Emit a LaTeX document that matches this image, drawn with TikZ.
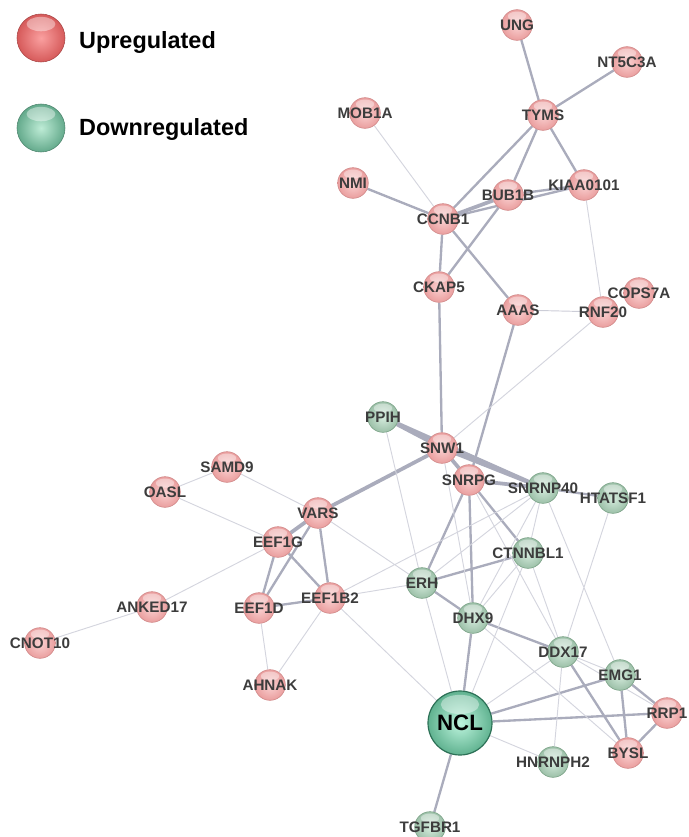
\documentclass[tikz,border=0pt]{standalone}
\usepackage{fontspec}
\setmainfont{Liberation Sans}
\usetikzlibrary{backgrounds}

\definecolor{upin}{RGB}{250,210,210}
\definecolor{upout}{RGB}{234,158,158}
\definecolor{uprim}{RGB}{208,136,136}
\definecolor{dnin}{RGB}{214,236,222}
\definecolor{dnout}{RGB}{156,192,168}
\definecolor{dnrim}{RGB}{120,160,132}
\definecolor{bigin}{RGB}{190,245,222}
\definecolor{bigout}{RGB}{96,178,144}
\definecolor{bigrim}{RGB}{44,112,86}
\definecolor{legupin}{RGB}{250,160,160}
\definecolor{legupout}{RGB}{214,90,90}
\definecolor{legdnin}{RGB}{190,236,214}
\definecolor{legdnout}{RGB}{100,170,140}
\definecolor{labgray}{RGB}{60,60,60}
\definecolor{edgemid}{RGB}{170,172,188}
\definecolor{edgelight}{RGB}{212,213,222}

\begin{document}
\begin{tikzpicture}[x = 0.03cm, y = -0.03cm,
        sphere/.style = {circle, inner sep = 0pt, minimum size = 2*#1, shade, line width = 0.5pt,
            path picture = {\fill[white, opacity = .4] ([yshift = -0.42*#1]path picture bounding box.north) ellipse ({0.6*#1} and {0.3*#1});}},
        lbl/.style = {font = \bfseries\fontsize{13}{13}\selectfont, text = labgray, inner sep = 0pt},
        up/.style = {sphere = 0.46cm, inner color = upin, outer color = upout, draw = uprim, label = {[lbl]center:#1}},
        down/.style = {sphere = 0.46cm, inner color = dnin, outer color = dnout, draw = dnrim, label = {[lbl]center:#1}},
        weak/.style = {line width = 0.8pt, draw = edgelight},
        mid/.style = {line width = 2pt, draw = edgemid},
        strong/.style = {line width = 3.2pt, draw = edgemid}]
    \useasboundingbox (0, 0) rectangle (688, 837);

    % legend
    \node[sphere = 0.72cm, inner color = legupin, outer color = legupout, draw = legupout!80!black] (legup) at (41, 38) {};
    \node[sphere = 0.72cm, inner color = legdnin, outer color = legdnout, draw = legdnout!80!black] (legdown) at (41, 128) {};
    \node[anchor = west, font = \bfseries\fontsize{20}{20}\selectfont] (legupt) at (75, 42) {Upregulated};
    \node[anchor = west, font = \bfseries\fontsize{20}{20}\selectfont] (legdownt) at (75, 129) {Downregulated};

    % genes
    \node[up = UNG] (ung) at (517, 25) {};
    \node[up = NT5C3A] (nt5c3a) at (627, 62) {};
    \node[up = MOB1A] (mob1a) at (365, 113) {};
    \node[up = TYMS] (tyms) at (543, 115) {};
    \node[up = NMI] (nmi) at (353, 183) {};
    \node[up = KIAA0101] (kiaa) at (584, 185) {};
    \node[up = BUB1B] (bub1b) at (508, 195) {};
    \node[up = CCNB1] (ccnb1) at (443, 219) {};
    \node[up = CKAP5] (ckap5) at (439, 287) {};
    \node[up = AAAS] (aaas) at (518, 310) {};
    \node[up = RNF20] (rnf20) at (603, 312) {};
    \node[up = COPS7A] (cops7a) at (639, 293) {};
    \node[down = PPIH] (ppih) at (383, 417) {};
    \node[up = SNW1] (snw1) at (442, 448) {};
    \node[up = SAMD9] (samd9) at (227, 467) {};
    \node[up = SNRPG] (snrpg) at (469, 480) {};
    \node[down = SNRNP40] (snrnp40) at (543, 488) {};
    \node[up = OASL] (oasl) at (165, 492) {};
    \node[down = HTATSF1] (htatsf1) at (613, 498) {};
    \node[up = VARS] (vars) at (318, 513) {};
    \node[up = EEF1G] (eef1g) at (278, 542) {};
    \node[down = CTNNBL1] (ctnnbl1) at (528, 553) {};
    \node[down = ERH] (erh) at (422, 583) {};
    \node[up = EEF1B2] (eef1b2) at (330, 598) {};
    \node[up = ANKED17] (anked17) at (152, 607) {};
    \node[up = EEF1D] (eef1d) at (259, 608) {};
    \node[down = DHX9] (dhx9) at (473, 618) {};
    \node[up = CNOT10] (cnot10) at (40, 643) {};
    \node[down = DDX17] (ddx17) at (563, 652) {};
    \node[down = EMG1] (emg1) at (620, 675) {};
    \node[up = AHNAK] (ahnak) at (270, 685) {};
    \node[up = RRP1] (rrp1) at (667, 713) {};
    \node[sphere = 0.96cm, inner color = bigin, outer color = bigout, draw = bigrim, line width = 1pt,
          label = {[font = \bfseries\fontsize{19}{19}\selectfont, inner sep = 0pt]center:NCL}] (ncl) at (460, 723) {};
    \node[up = BYSL] (bysl) at (628, 753) {};
    \node[down = HNRNPH2] (hnrnph2) at (553, 762) {};
    \node[down = TGFBR1] (tgfbr1) at (430, 827) {};

    % interactions
    \begin{scope}[on background layer]
        \draw[mid] (ung) -- (tyms) (nt5c3a) -- (tyms) (tyms) -- (ccnb1) (tyms) -- (bub1b) (tyms) -- (kiaa)
                   (nmi) -- (ccnb1) (ccnb1) -- (ckap5) (bub1b) -- (ckap5) (ccnb1) -- (aaas)
                   (ccnb1) -- (kiaa) (bub1b) -- (kiaa) (ckap5) -- (snw1) (aaas) -- (snrpg);
        \draw[strong] (ccnb1) -- (bub1b);
        \draw[weak] (mob1a) -- (ccnb1) (kiaa) -- (rnf20) (rnf20) -- (snw1);
        \draw[weak, draw = edgemid!60] (aaas) -- (rnf20);
        \draw[strong] (ppih) -- (snw1) (ppih) -- (snrnp40) (snw1) -- (snrpg) (snw1) -- (snrnp40)
                      (snrpg) -- (snrnp40) (vars) -- (snw1) (vars) -- (eef1g);
        \draw[mid] (snrpg) -- (erh) (snrpg) -- (dhx9) (snrpg) -- (ctnnbl1) (snrnp40) -- (htatsf1)
                   (ctnnbl1) -- (erh) (erh) -- (dhx9) (dhx9) -- (ncl) (dhx9) -- (ddx17) (ddx17) -- (bysl)
                   (ncl) -- (emg1) (ncl) -- (rrp1) (ncl) -- (tgfbr1) (emg1) -- (rrp1) (emg1) -- (bysl)
                   (rrp1) -- (bysl) (vars) -- (eef1d) (vars) -- (eef1b2) (eef1g) -- (eef1d)
                   (eef1g) -- (eef1b2) (eef1d) -- (eef1b2);
        \draw[weak] (cnot10) -- (anked17) (anked17) -- (eef1g) (oasl) -- (samd9) (oasl) -- (eef1g)
                    (samd9) -- (vars) (vars) -- (erh) (eef1d) -- (ahnak) (eef1b2) -- (ahnak)
                    (eef1b2) -- (erh) (eef1b2) -- (snrnp40) (eef1b2) -- (ncl) (ppih) -- (erh)
                    (erh) -- (ncl) (snw1) -- (dhx9) (snrpg) -- (ddx17) (snrnp40) -- (erh)
                    (snrnp40) -- (ctnnbl1) (snrnp40) -- (dhx9) (snrnp40) -- (emg1) (htatsf1) -- (ddx17)
                    (ctnnbl1) -- (dhx9) (ctnnbl1) -- (ncl) (ctnnbl1) -- (ddx17) (dhx9) -- (bysl)
                    (ddx17) -- (ncl) (ddx17) -- (emg1) (ddx17) -- (rrp1) (ddx17) -- (hnrnph2)
                    (ncl) -- (hnrnph2);
    \end{scope}
\end{tikzpicture}
\end{document}
